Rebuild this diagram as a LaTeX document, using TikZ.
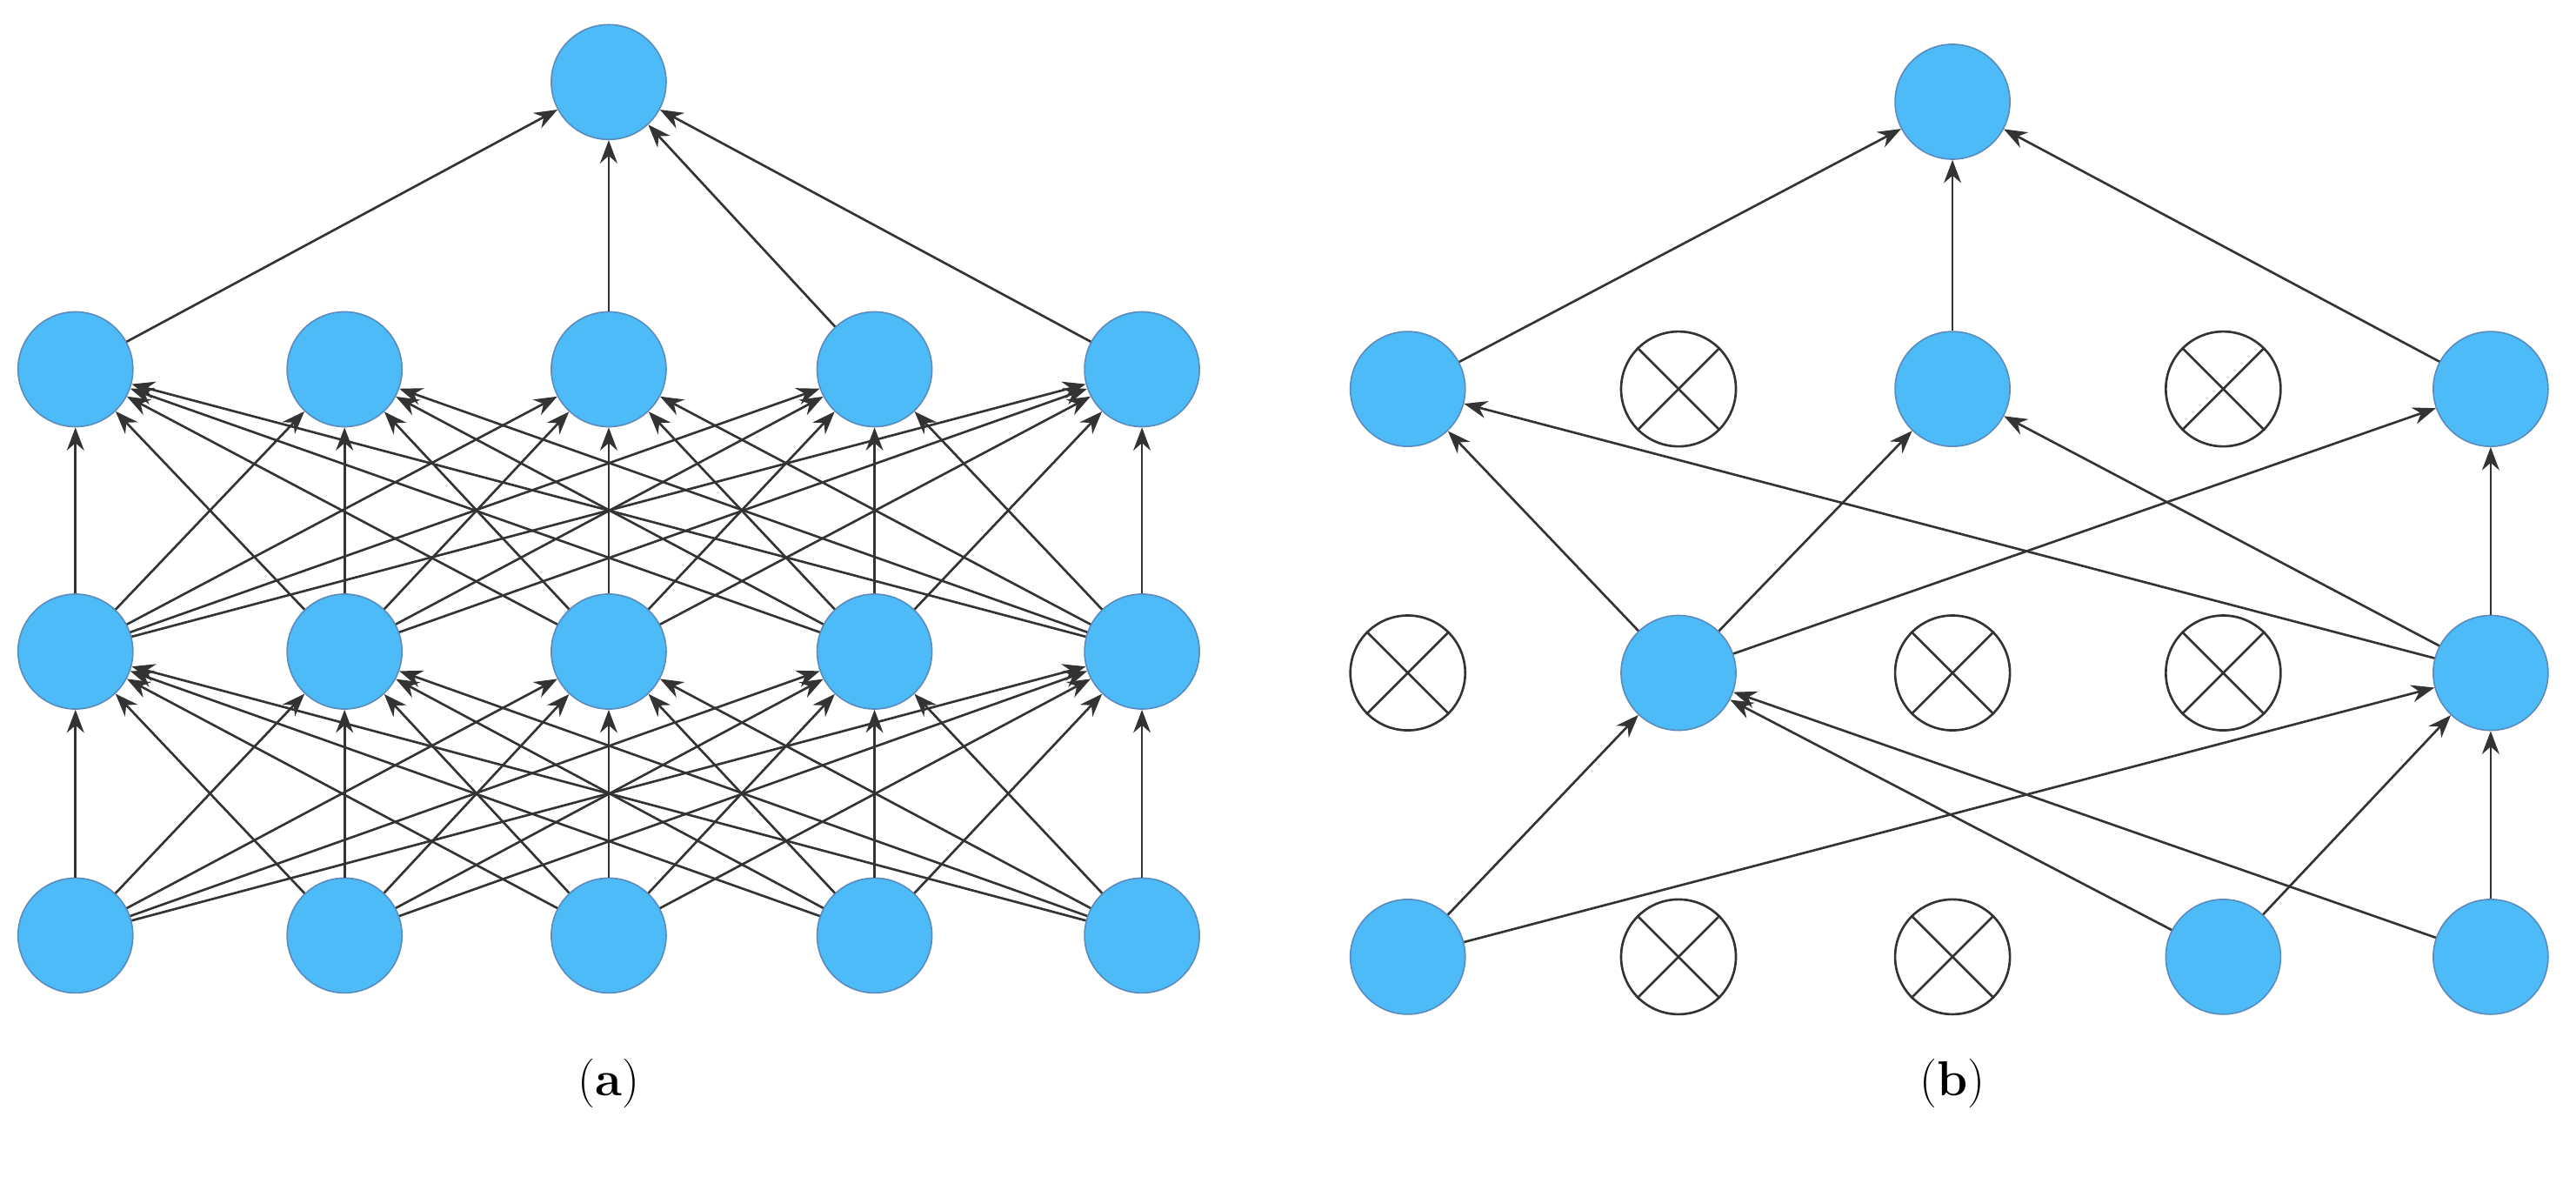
\documentclass[tikz,border=0pt]{standalone}
\usetikzlibrary{arrows.meta}
\begin{document}
\begin{tikzpicture}[x=0.02cm,y=-0.02cm,
  neuron/.style={circle,minimum size=1.4cm,inner sep=0pt,fill={rgb,255:red,77;green,187;blue,248},draw={rgb,255:red,90;green,140;blue,190},line width=0.5pt},
  drop/.style={circle,minimum size=1.4cm,inner sep=0pt,fill=white,draw=black!80,line width=0.8pt},
  conn/.style={-{Stealth[length=8pt,width=6pt]},draw=black!80,line width=0.8pt},
  lab/.style={font=\fontsize{17}{20}\selectfont}]
\useasboundingbox (0,0) rectangle (1570,717);
% panel (a)
\node[neuron] (at) at (371,50) {};
\foreach \i/\x in {1/46,2/210,3/371,4/533,5/696}{
  \node[neuron] (a2\i) at (\x,225) {};
  \node[neuron] (a3\i) at (\x,397) {};
  \node[neuron] (a4\i) at (\x,570) {};
}
\foreach \i in {1,3,4,5}{\draw[conn] (a2\i) -- (at);}
\foreach \i in {1,...,5}{
  \foreach \j in {1,...,5}{
    \draw[conn] (a3\i) -- (a2\j);
    \draw[conn] (a4\i) -- (a3\j);
  }
}
\node[lab] at (371,660) {(\textbf{a})};
% panel (b)
\node[neuron] (bt) at (1190,62) {};
\node[neuron] (b21) at (858,237) {};
\node[drop] (b22) at (1023,237) {};
\node[neuron] (b23) at (1190,237) {};
\node[drop] (b24) at (1355,237) {};
\node[neuron] (b25) at (1518,237) {};
\node[drop] (b31) at (858,410) {};
\node[neuron] (b32) at (1023,410) {};
\node[drop] (b33) at (1190,410) {};
\node[drop] (b34) at (1355,410) {};
\node[neuron] (b35) at (1518,410) {};
\node[neuron] (b41) at (858,583) {};
\node[drop] (b42) at (1023,583) {};
\node[drop] (b43) at (1190,583) {};
\node[neuron] (b44) at (1355,583) {};
\node[neuron] (b45) at (1518,583) {};
\foreach \n in {b22,b24,b31,b33,b34,b42,b43}{
  \draw[black!80,line width=0.8pt] (\n.45) -- (\n.225) (\n.135) -- (\n.315);
}
\foreach \s in {b21,b23,b25}{\draw[conn] (\s) -- (bt);}
\foreach \s in {b32,b35}{\foreach \t in {b21,b23,b25}{\draw[conn] (\s) -- (\t);}}
\foreach \s in {b41,b44,b45}{\foreach \t in {b32,b35}{\draw[conn] (\s) -- (\t);}}
\node[lab] at (1190,660) {(\textbf{b})};
\end{tikzpicture}
\end{document}
